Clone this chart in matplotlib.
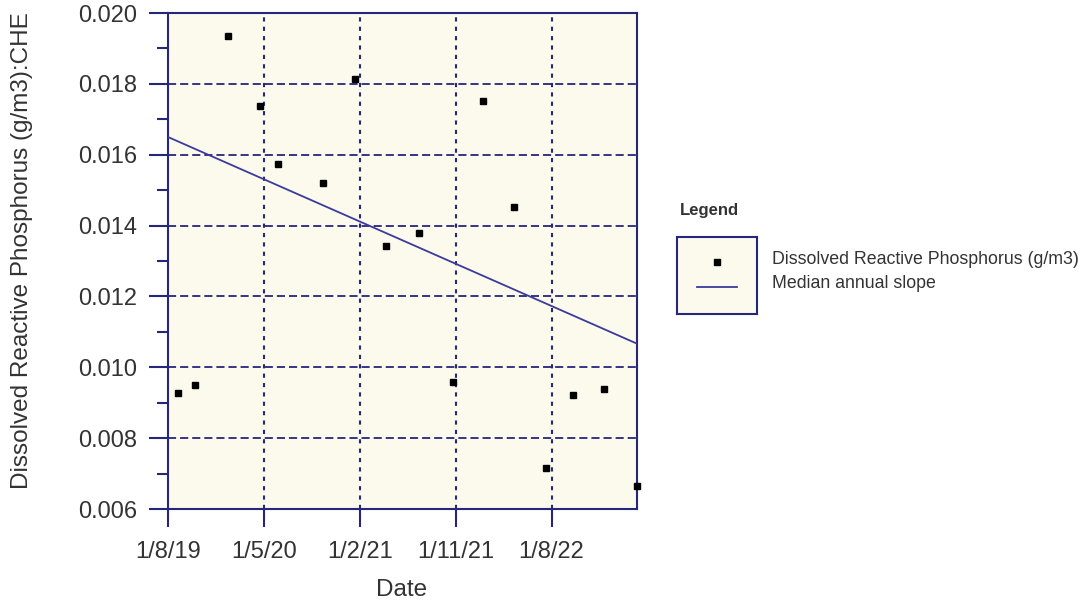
import matplotlib
matplotlib.use("Agg")
import matplotlib.pyplot as plt
import matplotlib.dates as mdates
from matplotlib.ticker import MultipleLocator, FixedLocator
import pandas as pd

# Sample dates and dissolved reactive phosphorus concentrations (g/m3)
sample_dates = [
    "2019-08-29", "2019-10-17", "2020-01-20", "2020-04-20",
    "2020-06-11", "2020-10-18", "2021-01-15", "2021-04-16",
    "2021-07-19", "2021-10-22", "2022-01-18", "2022-04-17",
    "2022-07-17", "2022-09-30", "2022-12-28", "2023-04-01",
]
drp_values = [
    0.00927, 0.00950, 0.01935, 0.01738,
    0.01574, 0.01520, 0.01814, 0.01342,
    0.01379, 0.00958, 0.01752, 0.01452,
    0.00716, 0.00922, 0.00939, 0.00665,
]

# Trend line: value at the start of the record and median annual slope (g/m3 per year)
trend_start_date = "2019-08-01"
trend_end_date = "2023-04-01"
trend_start_value = 0.0165
trend_annual_slope = -0.00159

# Axis ticks
x_tick_dates = ["2019-08-01", "2020-05-01", "2021-02-01", "2021-11-01", "2022-08-01"]
x_tick_labels = ["1/8/19", "1/5/20", "1/2/21", "1/11/21", "1/8/22"]
y_ticks = [0.006, 0.008, 0.010, 0.012, 0.014, 0.016, 0.018, 0.020]
x_limits = ("2019-08-01", "2023-04-02")
y_limits = (0.006, 0.020)

NAVY = "#26267a"
LINE = "#3b3b9c"
CREAM = "#fcfaed"
TEXT = "#333333"
FONT = ["Liberation Sans", "DejaVu Sans"]

plt.rcParams["font.family"] = FONT

W, H = 1082, 608
fig = plt.figure(figsize=(W / 100, H / 100), dpi=100)
fig.patch.set_facecolor("white")


def px_rect(x0, y0, x1, y1):
    return [x0 / W, 1 - y1 / H, (x1 - x0) / W, (y1 - y0) / H]


ax = fig.add_axes(px_rect(168, 13, 637, 509))
ax.set_facecolor(CREAM)

dates = pd.to_datetime(sample_dates)
xd = mdates.date2num(dates)

t0 = pd.Timestamp(trend_start_date)
t1 = pd.Timestamp(trend_end_date)
trend_x = mdates.date2num([t0, t1])
years = (t1 - t0).days / 365.25
trend_y = [trend_start_value, trend_start_value + trend_annual_slope * years]

ax.plot(trend_x, trend_y, color=LINE, lw=1.3, zorder=3)
ax.plot(xd, drp_values, ls="none", marker="s", ms=4.3, color="black",
        zorder=4, clip_on=False)

ax.set_xlim(mdates.date2num(pd.to_datetime(list(x_limits))))
ax.set_ylim(*y_limits)

ax.xaxis.set_major_locator(FixedLocator(mdates.date2num(pd.to_datetime(x_tick_dates))))
ax.set_xticklabels(x_tick_labels)
ax.yaxis.set_major_locator(FixedLocator(y_ticks))
ax.set_yticklabels([f"{v:.3f}" for v in y_ticks])
ax.yaxis.set_minor_locator(MultipleLocator(0.001))

ax.tick_params(axis="both", which="major", direction="out", colors=NAVY,
               labelcolor=TEXT, labelsize=17, width=1.5)
ax.tick_params(axis="y", which="major", length=14, pad=8)
ax.tick_params(axis="y", which="minor", length=8, width=1.5, colors=NAVY)
ax.tick_params(axis="x", which="major", length=13, pad=10)

for s in ax.spines.values():
    s.set_color(NAVY)
    s.set_linewidth(1.5)

# Dashed horizontal and dotted vertical grid lines
for v in y_ticks[1:-1]:
    ax.axhline(v, color=NAVY, lw=1.3, dashes=(4.5, 2.2), zorder=1)
for d in x_tick_dates[1:]:
    ax.axvline(mdates.date2num(pd.Timestamp(d)), color=NAVY, lw=1.5,
               dashes=(2, 2.5), zorder=1)

fig.text(22 / W, 1 - 251 / H, "Dissolved Reactive Phosphorus (g/m3):CHE",
         rotation=90, ha="center", va="center", fontsize=17.5, color=TEXT)
fig.text(402 / W, 1 - 590 / H, "Date", ha="center", va="center",
         fontsize=17.5, color=TEXT)

# Legend panel
fig.text(680 / W, 1 - 211 / H, "Legend", ha="left", va="center",
         fontsize=12, fontweight="bold", color=TEXT)
lax = fig.add_axes(px_rect(677, 237, 757, 314))
lax.set_facecolor(CREAM)
lax.set_xlim(0, 1)
lax.set_ylim(0, 1)
lax.set_xticks([])
lax.set_yticks([])
for s in lax.spines.values():
    s.set_color(NAVY)
    s.set_linewidth(1.5)
lax.plot([0.5], [1 - (262 - 237) / 77], ls="none", marker="s", ms=4.3, color="black")
lax.plot([0.25, 0.75], [1 - (287 - 237) / 77] * 2, color=LINE, lw=1.3)

fig.text(772 / W, 1 - 259 / H, "Dissolved Reactive Phosphorus (g/m3)",
         ha="left", va="center", fontsize=12.8, color=TEXT)
fig.text(772 / W, 1 - 284 / H, "Median annual slope",
         ha="left", va="center", fontsize=12.8, color=TEXT)

fig.savefig("out.png", dpi=100, facecolor="white")
